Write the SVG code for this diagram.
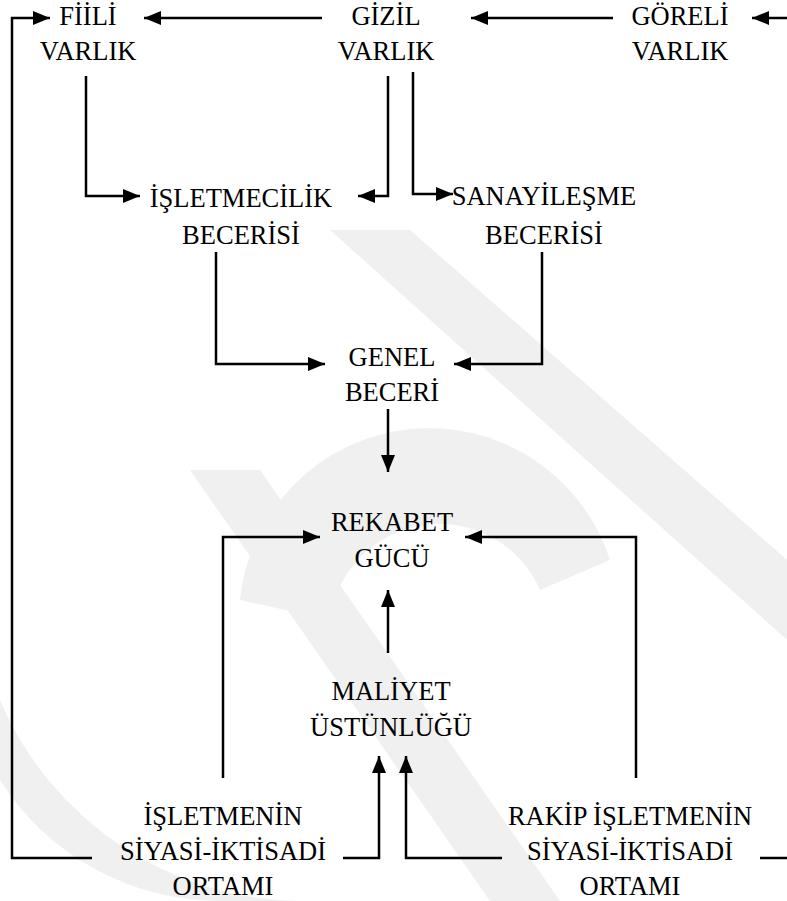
<svg xmlns="http://www.w3.org/2000/svg" width="787" height="901" viewBox="0 0 787 901">
  <style>
    .lbl { font-family: "Liberation Serif", "Times New Roman", serif; font-size: 26.5px; fill: #000; text-anchor: middle; }
    .wire { fill: none; stroke: #000; stroke-width: 2.5; stroke-linejoin: miter; }
    .arr { marker-end: url(#ah); }
    .wm { fill: #f0f0f0; }
  </style>
  <defs>
    <marker id="ah" markerWidth="18" markerHeight="14" refX="17" refY="7" orient="auto" markerUnits="userSpaceOnUse">
      <path d="M0,0 L17,7 L0,14 Z" fill="#000"/>
    </marker>
  </defs>

  <rect width="787" height="901" fill="#fff"/>

  <!-- faint background mark -->
  <g id="watermark">
    <path class="wm" d="M190,470 L260,470 L560,901 L490,901 Z"/>
    <path class="wm" d="M330,230 L410,230 L787,560 L787,640 Z"/>
    <path class="wm" d="M240,600 A190,190 0 0 1 610,560 L540,590 A110,110 0 0 0 330,620 Z"/>
    <path class="wm" d="M0,700 A330,330 0 0 0 300,901 L220,901 A260,260 0 0 1 0,780 Z"/>
  </g>

  <!-- connectors -->
  <g id="connectors">
    <path class="wire arr" d="M322,18 L144,18"/>
    <path class="wire arr" d="M613,18 L471,18"/>
    <path class="wire arr" d="M787,18 L752,18"/>
    <path class="wire arr" d="M92,858 L12,858 L12,18 L50,18"/>
    <path class="wire arr" d="M86,76 L86,196 L140,196"/>
    <path class="wire arr" d="M388,76 L388,196 L358,196"/>
    <path class="wire arr" d="M413,72 L413,194 L453,194"/>
    <path class="wire arr" d="M216,252 L216,364 L325,364"/>
    <path class="wire arr" d="M542,252 L542,364 L454,364"/>
    <path class="wire arr" d="M388,409 L388,472"/>
    <path class="wire arr" d="M388,653 L388,590"/>
    <path class="wire arr" d="M223,778 L223,537 L320,537"/>
    <path class="wire arr" d="M636,778 L636,537 L465,537"/>
    <path class="wire arr" d="M343,858 L379,858 L379,756"/>
    <path class="wire arr" d="M502,858 L406,858 L406,756"/>
    <path class="wire" d="M760,858 L787,858"/>
  </g>

  <!-- nodes -->
  <g id="fiili-varlik">
    <text class="lbl" x="88" y="25">FİİLİ</text>
    <text class="lbl" x="88" y="60">VARLIK</text>
  </g>
  <g id="gizil-varlik">
    <text class="lbl" x="386" y="25">GİZİL</text>
    <text class="lbl" x="386" y="60">VARLIK</text>
  </g>
  <g id="goreli-varlik">
    <text class="lbl" x="680" y="25">GÖRELİ</text>
    <text class="lbl" x="680" y="60">VARLIK</text>
  </g>
  <g id="isletmecilik-becerisi">
    <text class="lbl" x="241" y="207">İŞLETMECİLİK</text>
    <text class="lbl" x="241" y="244">BECERİSİ</text>
  </g>
  <g id="sanayilesme-becerisi">
    <text class="lbl" x="544" y="205">SANAYİLEŞME</text>
    <text class="lbl" x="544" y="244">BECERİSİ</text>
  </g>
  <g id="genel-beceri">
    <text class="lbl" x="392" y="366">GENEL</text>
    <text class="lbl" x="392" y="401">BECERİ</text>
  </g>
  <g id="rekabet-gucu">
    <text class="lbl" x="392" y="531">REKABET</text>
    <text class="lbl" x="392" y="567">GÜCÜ</text>
  </g>
  <g id="maliyet-ustunlugu">
    <text class="lbl" x="391" y="700">MALİYET</text>
    <text class="lbl" x="391" y="736">ÜSTÜNLÜĞÜ</text>
  </g>
  <g id="isletmenin-ortami">
    <text class="lbl" x="223" y="825">İŞLETMENİN</text>
    <text class="lbl" x="223" y="860">SİYASİ-İKTİSADİ</text>
    <text class="lbl" x="223" y="895">ORTAMI</text>
  </g>
  <g id="rakip-ortami">
    <text class="lbl" x="630" y="825">RAKİP İŞLETMENİN</text>
    <text class="lbl" x="630" y="860">SİYASİ-İKTİSADİ</text>
    <text class="lbl" x="630" y="895">ORTAMI</text>
  </g>
</svg>
